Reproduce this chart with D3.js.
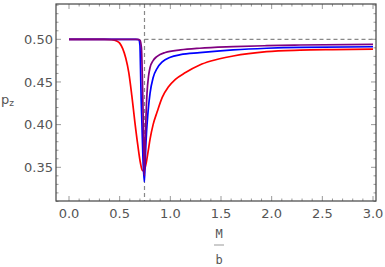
<!DOCTYPE html>
<html lang="en">
<head>
<meta charset="utf-8">
<title>p_z vs M/b</title>
<script src="https://d3js.org/d3.v7.min.js"></script>
<style>
  body { margin: 0; background: #fff; }
  text { font-family: "DejaVu Sans", sans-serif; fill: #555; }
</style>
</head>
<body>
<svg width="385" height="267"></svg>
<script>
// curve samples: [M/b, p_z]
const redPts = [[0,0.5],[0.35,0.5],[0.42,0.4995],[0.47,0.498],[0.5,0.4955],[0.53,0.489],[0.56,0.478],
  [0.59,0.461],[0.62,0.434],[0.65,0.403],[0.68,0.375],[0.705,0.355],[0.725,0.346],[0.74,0.346],
  [0.76,0.354],[0.78,0.368],[0.8,0.383],[0.83,0.4],[0.87,0.415],[0.92,0.432],[0.98,0.444],
  [1.05,0.453],[1.15,0.461],[1.29,0.4699],[1.4,0.4745],[1.62,0.4804],[1.95,0.4855],
  [2.28,0.4873],[2.6,0.488],[3.0,0.4885]];
const bluePts = [[0,0.5],[0.66,0.5],[0.69,0.4995],[0.7,0.493],[0.705,0.47],[0.712,0.43],[0.72,0.40],
  [0.73,0.36],[0.743,0.333],[0.75,0.35],[0.76,0.38],[0.78,0.415],[0.8,0.437],[0.83,0.455],
  [0.87,0.466],[0.92,0.4735],[1.0,0.479],[1.1,0.482],[1.29,0.4843],[1.62,0.4875],[1.95,0.4895],
  [2.28,0.4906],[3.0,0.4913]];
const purplePts = [[0,0.5],[0.68,0.5],[0.7,0.499],[0.715,0.49],[0.725,0.45],[0.735,0.39],
  [0.743,0.34],[0.75,0.37],[0.76,0.41],[0.77,0.437],[0.785,0.457],[0.8,0.467],[0.83,0.475],
  [0.87,0.48],[0.95,0.4845],[1.1,0.4875],[1.29,0.4895],[1.62,0.4913],[1.95,0.4925],
  [2.28,0.4933],[3.0,0.494]];

const series = [
  { name: "red", color: "#ff0000", pts: redPts },
  { name: "blue", color: "#0000ff", pts: bluePts },
  { name: "purple", color: "#800080", pts: purplePts }
];

const xTicks = [0, 0.5, 1.0, 1.5, 2.0, 2.5, 3.0];
const yTicks = [0.35, 0.40, 0.45, 0.50];
const xCrit = 0.745;   // vertical dashed line
const yAsym = 0.5;     // horizontal dashed line

// frame
const fLeft = 56, fRight = 376, fTop = 4, fBottom = 201;

const x = d3.scaleLinear().domain([0, 3]).range([69, 373]);
const y = d3.scaleLinear().domain([0.35, 0.5]).range([167.3, 39.3]);

const svg = d3.select("svg");

// dashed guides
svg.append("line")
  .attr("x1", x(xCrit)).attr("x2", x(xCrit))
  .attr("y1", fTop).attr("y2", fBottom)
  .attr("stroke", "#888").attr("stroke-width", 1.2)
  .attr("stroke-dasharray", "4,3");
svg.append("line")
  .attr("x1", x(xCrit)).attr("x2", fRight)
  .attr("y1", y(yAsym)).attr("y2", y(yAsym))
  .attr("stroke", "#888").attr("stroke-width", 1.2)
  .attr("stroke-dasharray", "4,3");

// curves
const line = d3.line()
  .x(d => x(d[0]))
  .y(d => y(d[1]))
  .curve(d3.curveMonotoneX);

svg.append("g").selectAll("path")
  .data(series)
  .join("path")
  .attr("d", d => line(d.pts))
  .attr("fill", "none")
  .attr("stroke", d => d.color)
  .attr("stroke-width", 1.7);

// ticks on all four sides (inward)
const xMinor = d3.range(0, 3.001, 0.1);
const yMinor = d3.range(0.31, 0.541, 0.01);
const tickG = svg.append("g").attr("stroke", "#999").attr("stroke-width", 1);

xMinor.forEach(v => {
  const major = xTicks.some(t => Math.abs(t - v) < 1e-6);
  const len = major ? 5 : 2.5;
  tickG.append("line").attr("x1", x(v)).attr("x2", x(v)).attr("y1", fBottom).attr("y2", fBottom - len);
  tickG.append("line").attr("x1", x(v)).attr("x2", x(v)).attr("y1", fTop).attr("y2", fTop + len);
});
yMinor.forEach(v => {
  const major = yTicks.some(t => Math.abs(t - v) < 1e-6);
  const len = major ? 5 : 2.5;
  tickG.append("line").attr("x1", fLeft).attr("x2", fLeft + len).attr("y1", y(v)).attr("y2", y(v));
  tickG.append("line").attr("x1", fRight).attr("x2", fRight - len).attr("y1", y(v)).attr("y2", y(v));
});

// frame
svg.append("rect")
  .attr("x", fLeft).attr("y", fTop)
  .attr("width", fRight - fLeft).attr("height", fBottom - fTop)
  .attr("fill", "none").attr("stroke", "#444").attr("stroke-width", 1.2);

// tick labels
svg.append("g").selectAll("text")
  .data(xTicks)
  .join("text")
  .attr("x", d => x(d))
  .attr("y", 217.5)
  .attr("text-anchor", "middle")
  .attr("font-size", 13)
  .text(d => d.toFixed(1));

svg.append("g").selectAll("text")
  .data(yTicks)
  .join("text")
  .attr("x", 53)
  .attr("y", d => y(d) + 4.8)
  .attr("text-anchor", "end")
  .attr("font-size", 13)
  .text(d => d.toFixed(2));

// axis titles
const yl = svg.append("text").attr("x", 1).attr("y", 104).attr("font-size", 13);
yl.append("tspan").text("p");
yl.append("tspan").attr("font-size", 9).attr("dy", 2).text("z");

const fx = 219;
svg.append("text").attr("x", fx).attr("y", 238)
  .attr("text-anchor", "middle").attr("font-size", 12)
  .style("font-family", "'DejaVu Sans Mono', monospace")
  .text("M");
svg.append("line")
  .attr("x1", fx - 5).attr("x2", fx + 5)
  .attr("y1", 245).attr("y2", 245)
  .attr("stroke", "#999").attr("stroke-width", 1);
svg.append("text").attr("x", fx).attr("y", 264)
  .attr("text-anchor", "middle").attr("font-size", 12)
  .style("font-family", "'DejaVu Sans Mono', monospace")
  .text("b");
</script>
</body>
</html>
